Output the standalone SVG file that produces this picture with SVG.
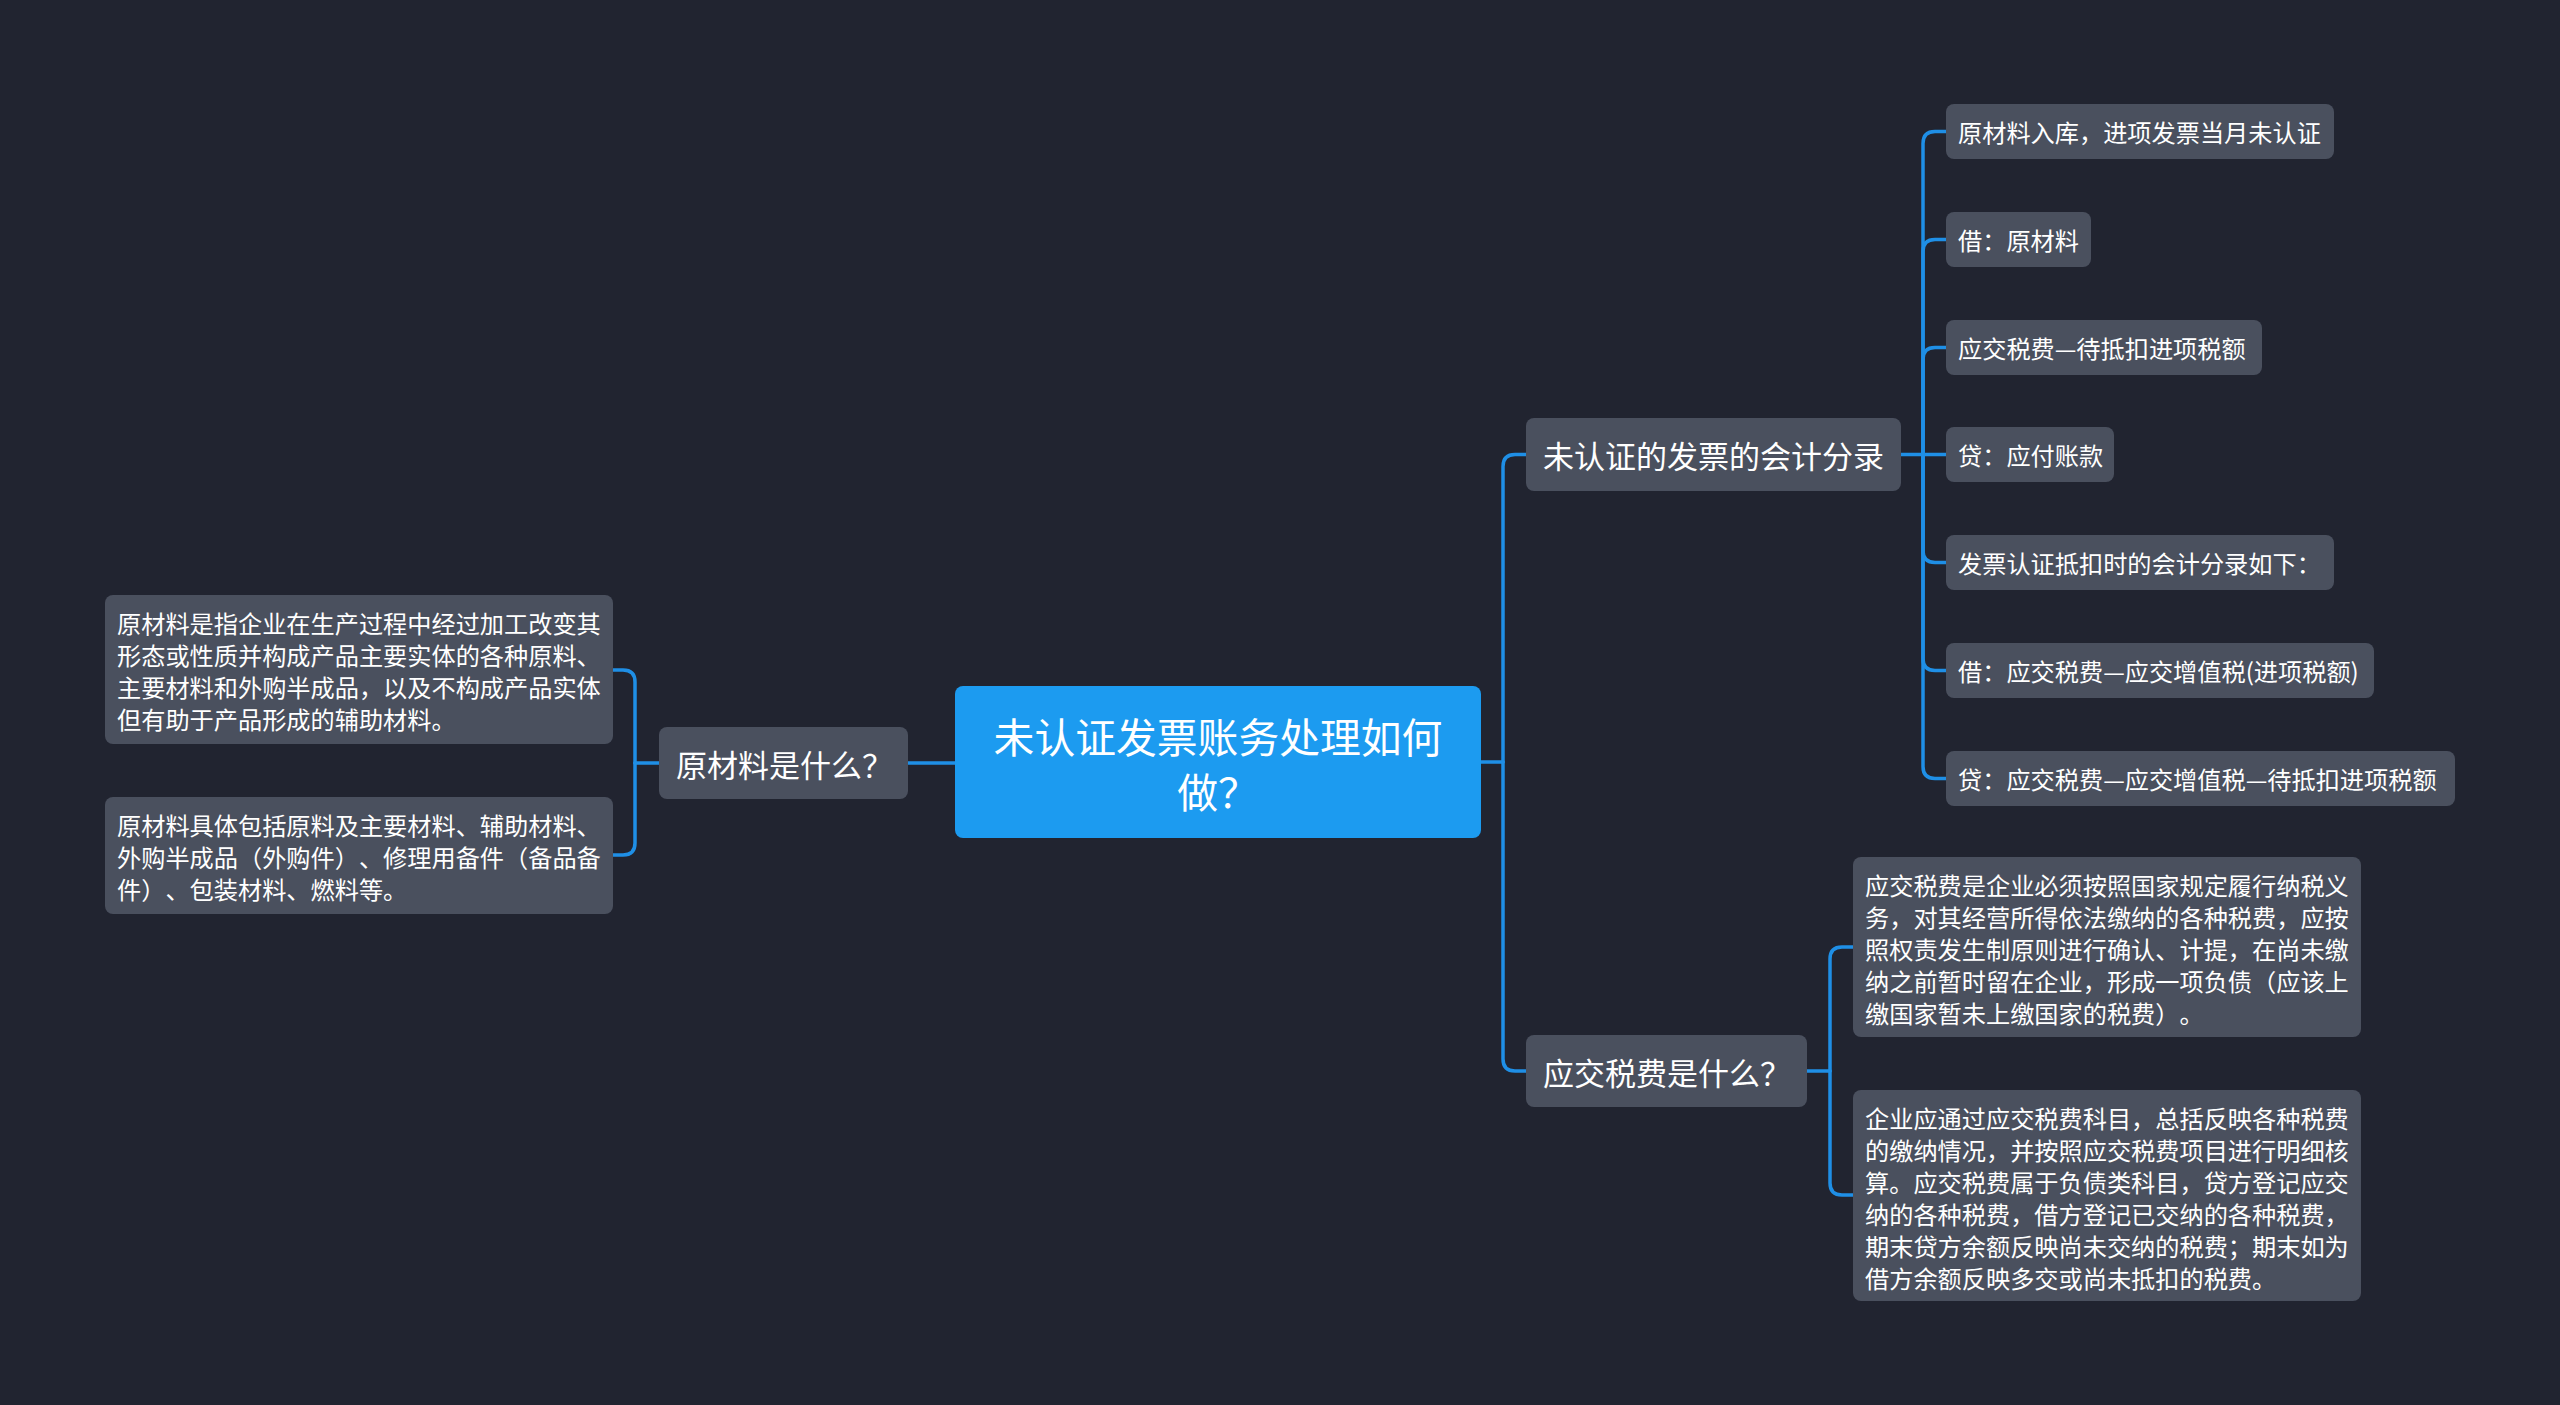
<svg xmlns="http://www.w3.org/2000/svg" width="2560" height="1405" viewBox="0 0 2560 1405">
<style>
.bg{fill:#212430}
.root rect{fill:#1c9bf0}
.node rect{fill:#4a505e}
.leaf rect{fill:#4a505e}
text{font-family:"Noto Sans CJK SC","Noto Sans",sans-serif;fill:#ffffff;dominant-baseline:central;text-spacing-trim:space-all}
.root text{font-size:40.8px;text-anchor:middle}
.node text{font-size:31px}
.leaf text{font-size:24.2px}
.conn path{fill:none;stroke:#1f8fe6;stroke-width:3.5;stroke-linecap:round}
</style>
<rect class="bg" x="0" y="0" width="2560" height="1405"/>
<g class="conn" id="connectors">
<path d="M1481 762 H1503"/>
<path d="M1503 762 V466.5 Q1503 454.5 1515 454.5 H1526"/>
<path d="M1503 762 V1059 Q1503 1071 1515 1071 H1526"/>
<path d="M955 763 H908"/>
<path d="M659 763 H635"/>
<path d="M635 763 V682 Q635 670 623 670 H613"/>
<path d="M635 763 V843 Q635 855 623 855 H613"/>
<path d="M1901 454.5 H1946"/>
<path d="M1923 454.5 V143.5 Q1923 131.5 1935 131.5 H1946"/>
<path d="M1923 454.5 V251.5 Q1923 239.5 1935 239.5 H1946"/>
<path d="M1923 454.5 V359.5 Q1923 347.5 1935 347.5 H1946"/>
<path d="M1923 454.5 V550.5 Q1923 562.5 1935 562.5 H1946"/>
<path d="M1923 454.5 V658.5 Q1923 670.5 1935 670.5 H1946"/>
<path d="M1923 454.5 V766.5 Q1923 778.5 1935 778.5 H1946"/>
<path d="M1807 1071 H1830"/>
<path d="M1830 1071 V959 Q1830 947 1842 947 H1853"/>
<path d="M1830 1071 V1183 Q1830 1195 1842 1195 H1853"/>
</g>
<g class="root" id="root">
<rect x="955" y="686" width="526" height="152" rx="8"/>
<text x="1218" y="735">未认证发票账务处理如何</text>
<text x="1218" y="790">做？</text>
</g>
<g class="node" id="n-left">
<rect x="659" y="727" width="249" height="72" rx="8"/>
<text x="676" y="763">原材料是什么？</text>
</g>
<g class="node" id="n-r1">
<rect x="1526" y="418" width="375" height="73" rx="8"/>
<text x="1543" y="454.5">未认证的发票的会计分录</text>
</g>
<g class="node" id="n-r2">
<rect x="1526" y="1035" width="281" height="72" rx="8"/>
<text x="1543" y="1071">应交税费是什么？</text>
</g>
<g class="leaf" id="l1">
<rect x="105" y="595" width="508" height="149" rx="8"/>
<text x="117" y="622">原材料是指企业在生产过程中经过加工改变其</text>
<text x="117" y="654">形态或性质并构成产品主要实体的各种原料、</text>
<text x="117" y="686">主要材料和外购半成品，以及不构成产品实体</text>
<text x="117" y="718">但有助于产品形成的辅助材料。</text>
</g>
<g class="leaf" id="l2">
<rect x="105" y="797" width="508" height="117" rx="8"/>
<text x="117" y="824">原材料具体包括原料及主要材料、辅助材料、</text>
<text x="117" y="856">外购半成品（外购件）、修理用备件（备品备</text>
<text x="117" y="888">件）、包装材料、燃料等。</text>
</g>
<g class="leaf" id="r1a">
<rect x="1946" y="104" width="388" height="55" rx="8"/>
<text x="1958" y="131.5">原材料入库，进项发票当月未认证</text>
</g>
<g class="leaf" id="r1b">
<rect x="1946" y="212" width="145" height="55" rx="8"/>
<text x="1958" y="239.5">借：原材料</text>
</g>
<g class="leaf" id="r1c">
<rect x="1946" y="320" width="316" height="55" rx="8"/>
<text x="1958" y="347.5">应交税费—待抵扣进项税额</text>
</g>
<g class="leaf" id="r1d">
<rect x="1946" y="427" width="168" height="55" rx="8"/>
<text x="1958" y="454.5">贷：应付账款</text>
</g>
<g class="leaf" id="r1e">
<rect x="1946" y="535" width="388" height="55" rx="8"/>
<text x="1958" y="562.5">发票认证抵扣时的会计分录如下：</text>
</g>
<g class="leaf" id="r1f">
<rect x="1946" y="643" width="428" height="55" rx="8"/>
<text x="1958" y="670.5">借：应交税费—应交增值税(进项税额)</text>
</g>
<g class="leaf" id="r1g">
<rect x="1946" y="751" width="509" height="55" rx="8"/>
<text x="1958" y="778.5">贷：应交税费—应交增值税—待抵扣进项税额</text>
</g>
<g class="leaf" id="r2a">
<rect x="1853" y="857" width="508" height="180" rx="8"/>
<text x="1865" y="884">应交税费是企业必须按照国家规定履行纳税义</text>
<text x="1865" y="916">务，对其经营所得依法缴纳的各种税费，应按</text>
<text x="1865" y="948">照权责发生制原则进行确认、计提，在尚未缴</text>
<text x="1865" y="980">纳之前暂时留在企业，形成一项负债（应该上</text>
<text x="1865" y="1012">缴国家暂未上缴国家的税费）。</text>
</g>
<g class="leaf" id="r2b">
<rect x="1853" y="1090" width="508" height="211" rx="8"/>
<text x="1865" y="1117">企业应通过应交税费科目，总括反映各种税费</text>
<text x="1865" y="1149">的缴纳情况，并按照应交税费项目进行明细核</text>
<text x="1865" y="1181">算。应交税费属于负债类科目，贷方登记应交</text>
<text x="1865" y="1213">纳的各种税费，借方登记已交纳的各种税费，</text>
<text x="1865" y="1245">期末贷方余额反映尚未交纳的税费；期末如为</text>
<text x="1865" y="1277">借方余额反映多交或尚未抵扣的税费。</text>
</g>
</svg>
